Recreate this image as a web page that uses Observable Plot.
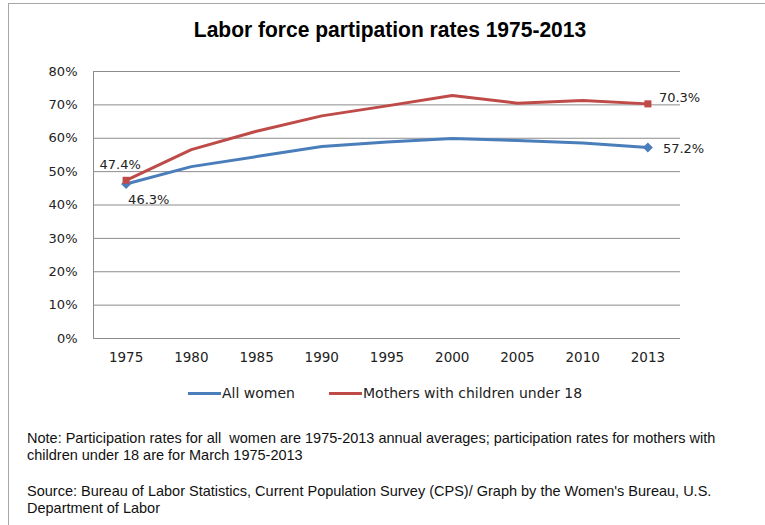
<!DOCTYPE html>
<html>
<head>
<meta charset="utf-8">
<script src="https://cdn.jsdelivr.net/npm/d3@7"></script>
<script src="https://cdn.jsdelivr.net/npm/@observablehq/plot@0.6"></script>
<style>
  html, body { margin: 0; padding: 0; background: #fff; }
  #wrap { position: relative; width: 765px; height: 525px; overflow: hidden; background: #fff; }
  #border { position: absolute; left: 8px; top: 3px; width: 800px; height: 600px; border: 1px solid #a6a6a6; box-sizing: border-box; }
  #title { position: absolute; left: 0; width: 780px; top: 17px; text-align: center; font-family: "Liberation Sans", sans-serif; font-weight: bold; font-size: 22px; color: #000; transform: scaleX(0.955); transform-origin: 390px 0; }
  #chart { position: absolute; left: 0; top: 0; }
  .leg { position: absolute; top: 385px; font-family: "DejaVu Sans", sans-serif; font-size: 14px; color: #222; display: flex; align-items: center; }
  .sw { width: 33px; height: 3px; margin-right: 1px; }
  .note { position: absolute; left: 27px; font-family: "Liberation Sans", sans-serif; font-size: 14.5px; line-height: 17px; color: #111; }
</style>
</head>
<body>
<div id="wrap">
  <div id="border"></div>
  <div id="chart"></div>
  <div id="title"></div>
  <div id="legend"></div>
  <div class="note" id="note" style="top:430px;"></div>
  <div class="note" id="source" style="top:483px;"></div>
</div>
<script>
const title = "Labor force partipation rates 1975-2013";
const years = ["1975", "1980", "1985", "1990", "1995", "2000", "2005", "2010", "2013"];
const allWomen = [0.463, 0.515, 0.545, 0.575, 0.589, 0.599, 0.593, 0.586, 0.572];
const mothers = [0.474, 0.566, 0.621, 0.667, 0.697, 0.728, 0.705, 0.713, 0.703];
const yTicks = [0, 0.1, 0.2, 0.3, 0.4, 0.5, 0.6, 0.7, 0.8];
const seriesNames = ["All women", "Mothers with children under 18"];
const colors = ["#4a7ebb", "#be4b48"];
const noteText = "Note: Participation rates for all&nbsp; women are 1975-2013 annual averages; participation rates for mothers with<br>children under 18 are for March 1975-2013";
const sourceText = "Source: Bureau of Labor Statistics, Current Population Survey (CPS)/ Graph by the Women's Bureau, U.S.<br>Department of Labor";

const xDomain = [-0.5, years.length - 0.5];
const rows = [];
years.forEach((yr, i) => {
  rows.push({i, year: yr, value: allWomen[i], series: seriesNames[0]});
  rows.push({i, year: yr, value: mothers[i], series: seriesNames[1]});
});
const last = years.length - 1;
const endA = [0, last].map(i => ({i, value: allWomen[i]}));
const endM = [0, last].map(i => ({i, value: mothers[i]}));
const pct = d3.format(".1%");

const plot = Plot.plot({
  width: 765,
  height: 370,
  marginLeft: 93,
  marginRight: 85,
  marginTop: 71,
  marginBottom: 32,
  style: {fontFamily: "DejaVu Sans, sans-serif", fontSize: "13px", color: "#222", background: "transparent", overflow: "visible"},
  x: {domain: xDomain, ticks: years.map((_, i) => i), tickFormat: i => years[i], label: null},
  y: {domain: [0, 0.8], ticks: yTicks, tickFormat: d3.format(".0%"), label: null},
  color: {domain: seriesNames, range: colors},
  marks: [
    Plot.gridY(yTicks, {stroke: "#8c8c8c", strokeOpacity: 1, strokeWidth: 1}),
    Plot.ruleX([xDomain[0]], {stroke: "#8c8c8c", strokeWidth: 1}),
    Plot.axisY({ticks: yTicks, tickFormat: d3.format(".0%"), tickSize: 0, tickPadding: 16, fontSize: 13, label: null}),
    Plot.axisX({ticks: years.map((_, i) => i), tickFormat: i => years[i], tickSize: 0, tickPadding: 14, fontSize: 13.5, label: null}),
    Plot.line(rows, {x: "i", y: "value", z: "series", stroke: "series", strokeWidth: 3, strokeLinejoin: "round"}),
    Plot.dot(endA, {x: "i", y: "value", symbol: "diamond2", r: 4.5, fill: colors[0], stroke: null}),
    Plot.dot(endM, {x: "i", y: "value", symbol: "square2", r: 4.5, fill: colors[1], stroke: null}),
    Plot.text([endM[0]], {x: "i", y: "value", text: d => pct(d.value), dx: -6, dy: -15, fontSize: 13, fill: "#222"}),
    Plot.text([endA[0]], {x: "i", y: "value", text: d => pct(d.value), textAnchor: "start", dx: 2, dy: 16, fontSize: 13, fill: "#222"}),
    Plot.text([endM[1]], {x: "i", y: "value", text: d => pct(d.value), textAnchor: "start", dx: 11, dy: -6, fontSize: 13, fill: "#222"}),
    Plot.text([endA[1]], {x: "i", y: "value", text: d => pct(d.value), textAnchor: "start", dx: 15, dy: 1, fontSize: 13, fill: "#222"})
  ]
});
document.getElementById("chart").appendChild(plot);
document.getElementById("title").textContent = title;

const legend = document.getElementById("legend");
const legendLeft = [188, 329];
seriesNames.forEach((name, k) => {
  const item = document.createElement("div");
  item.className = "leg";
  item.style.left = legendLeft[k] + "px";
  const sw = document.createElement("div");
  sw.className = "sw";
  sw.style.background = colors[k];
  const label = document.createElement("span");
  label.textContent = name;
  item.appendChild(sw);
  item.appendChild(label);
  legend.appendChild(item);
});
document.getElementById("note").innerHTML = noteText;
document.getElementById("source").innerHTML = sourceText;
</script>
</body>
</html>
